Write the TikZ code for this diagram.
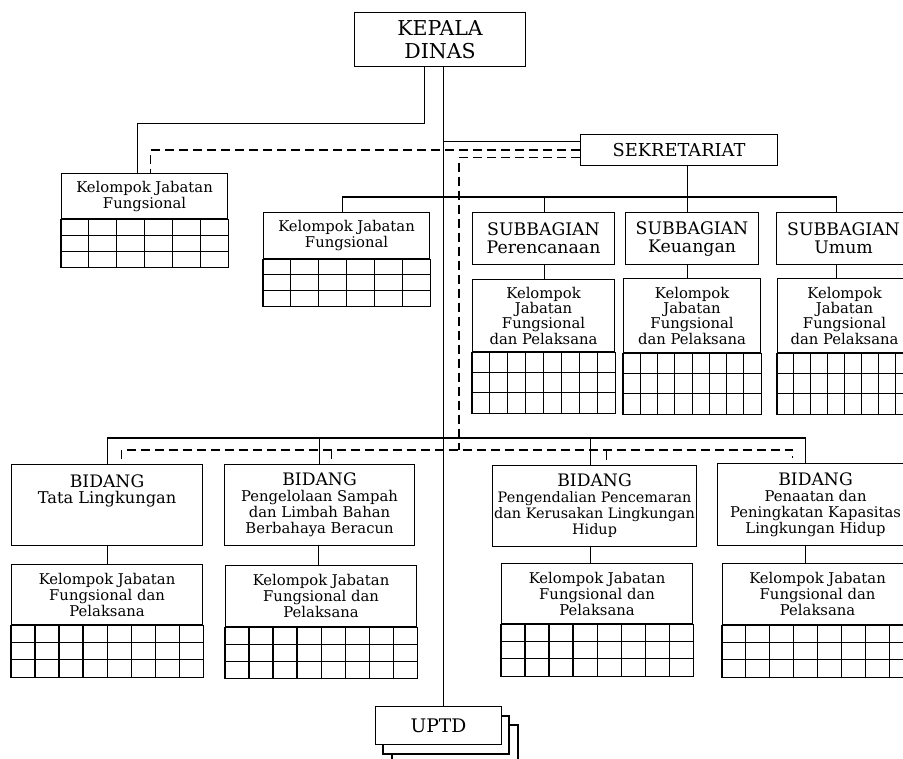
\documentclass[tikz,border=0pt]{standalone}
\usepackage{fontspec}
\setmainfont{DejaVu Serif}
\usetikzlibrary{calc}

\begin{document}
\begin{tikzpicture}[x=1pt,y=1pt,yscale=-1,xscale=1,line width=1.1pt,
  kotak/.style={draw, anchor=north west, inner sep=0pt, align=center},
  garisputus/.style={dash pattern=on 9pt off 5pt},
  hurufA/.style={font=\fontsize{20.5}{23.5}\selectfont},
  hurufB/.style={font=\fontsize{17.3}{18}\selectfont},
  hurufC/.style={font=\fontsize{14.8}{15.3}\selectfont},
  hurufD/.style={font=\fontsize{14.8}{16}\selectfont},
  hurufE/.style={font=\fontsize{14.4}{16}\selectfont}]
\useasboundingbox (0,0) rectangle (903,759);
\clip (0,0) rectangle (903,759);
%Kotak
\node[kotak, hurufA, minimum width=171pt, minimum height=54pt] (kepala) at (354,12) {KEPALA\\DINAS};
\node[kotak, font=\fontsize{17.8}{20}\selectfont, minimum width=197pt, minimum height=31pt] (sek) at (580,134) {SEKRETARIAT};
\node[kotak, hurufD, minimum width=166pt, minimum height=45pt] (kjf1) at (61,173) {Kelompok Jabatan\\Fungsional};
\node[kotak, hurufD, minimum width=166pt, minimum height=46pt] (kjf2) at (263,212) {Kelompok Jabatan\\Fungsional};
\node[kotak, hurufB, minimum width=142pt, minimum height=52pt] (sbRenc) at (472,212) {SUBBAGIAN\\Perencanaan};
\node[kotak, hurufB, minimum width=133pt, minimum height=52pt] (sbKeu) at (625,212) {SUBBAGIAN\\Keuangan};
\node[kotak, hurufB, minimum width=134pt, minimum height=52pt] (sbUmum) at (776,212) {SUBBAGIAN\\Umum};
\node[kotak, hurufC, minimum width=142pt, minimum height=72pt] (kjfRenc) at (472,279) {Kelompok\\Jabatan\\Fungsional\\dan Pelaksana};
\node[kotak, hurufC, minimum width=137pt, minimum height=74pt] (kjfKeu) at (623,278) {Kelompok\\Jabatan\\Fungsional\\dan Pelaksana};
\node[kotak, hurufC, minimum width=134pt, minimum height=74pt] (kjfUmum) at (777,278) {Kelompok\\Jabatan\\Fungsional\\dan Pelaksana};
\node[kotak, hurufD, minimum width=191pt, minimum height=81pt] (bidTata) at (11,464) {{\fontsize{17.2}{19}\selectfont BIDANG}\\{\fontsize{16.2}{18}\selectfont Tata Lingkungan}\\\mbox{}\\\mbox{}};
\node[kotak, hurufD, minimum width=190pt, minimum height=81pt] (bidSampah) at (224,464) {{\fontsize{17.2}{19}\selectfont BIDANG}\\Pengelolaan Sampah\\dan Limbah Bahan\\Berbahaya Beracun};
\node[kotak, hurufE, minimum width=204pt, minimum height=81pt] (bidCemar) at (492,465) {{\fontsize{17.2}{19}\selectfont BIDANG}\\Pengendalian Pencemaran\\dan Kerusakan Lingkungan\\Hidup};
\node[kotak, hurufD, minimum width=196pt, minimum height=82pt] (bidTaat) at (717,463) {{\fontsize{17.2}{19}\selectfont BIDANG}\\Penaatan dan\\Peningkatan Kapasitas\\Lingkungan Hidup};
\node[kotak, hurufD, minimum width=191pt, minimum height=60pt] (kjfTata) at (11,564) {Kelompok Jabatan\\Fungsional dan\\Pelaksana};
\node[kotak, hurufD, minimum width=191pt, minimum height=61pt] (kjfSampah) at (225,565) {Kelompok Jabatan\\Fungsional dan\\Pelaksana};
\node[kotak, hurufD, minimum width=191pt, minimum height=60pt] (kjfCemar) at (501,563) {Kelompok Jabatan\\Fungsional dan\\Pelaksana};
\node[kotak, hurufD, minimum width=190pt, minimum height=61pt] (kjfTaat) at (722,563) {Kelompok Jabatan\\Fungsional dan\\Pelaksana};
\foreach \dx/\dy in {17/19,8/10}
  \draw[fill=white] (375+\dx,706+\dy) rectangle ++(126,38);
\node[kotak, font=\fontsize{18.7}{20}\selectfont, fill=white, minimum width=126pt, minimum height=38pt] (uptd) at (375,706) {UPTD};
%Tabel
\foreach \n/\c/\h in {kjf1/5/48, kjf2/5/47, kjfRenc/7/61, kjfKeu/7/61, kjfUmum/7/61, kjfTata/7/52, kjfSampah/7/51, kjfCemar/7/52, kjfTaat/7/52}{
  \draw (\n.south west) rectangle ($(\n.south east)+(0,\h)$);
  \foreach \r in {1,2}
    \draw ($(\n.south west)+(0,\r*\h/3)$) -- ($(\n.south east)+(0,\r*\h/3)$);
  \foreach \k in {1,...,\c}
    \draw ($(\n.south west)!{\k/(\c+1)}!(\n.south east)$) -- ++(0,\h);
}
%Garis
\draw ([xshift=3.5pt]kepala.south) -- ([xshift=3.5pt]kepala.south |- uptd.north);
\draw ([xshift=-15.5pt]kepala.south) -- ++(0,56) -| ([xshift=-7pt]kjf1.north);
\draw ($(sek.west)+(0,-8.5)$) -- ++(-137,0);
\draw ([xshift=8.5pt]sek.south) -- ([xshift=8.5pt]sek.south |- sbKeu.north);
\draw ([xshift=-4pt]kjf2.north) -- ++(0,-15) -| ([xshift=-7pt]sbUmum.north);
\draw ([xshift=1pt]sbRenc.north) -- ++(0,-15);
\draw ([xshift=1pt]sbRenc.south) -- ([xshift=1pt]sbRenc.south |- kjfRenc.north);
\draw ([xshift=-4.5pt]sbKeu.south) -- ([xshift=-4.5pt]sbKeu.south |- kjfKeu.north);
\draw ([xshift=-7pt]sbUmum.south) -- ([xshift=-7pt]sbUmum.south |- kjfUmum.north);
\coordinate (sambungA) at (443,438);
\draw (bidTata.north) -- (bidTata.north |- sambungA) -- ([xshift=-10pt]bidTaat.north |- sambungA) -- ([xshift=-10pt]bidTaat.north);
\draw (bidSampah.north) -- (bidSampah.north |- sambungA);
\draw ([xshift=-4pt]bidCemar.north) -- ([xshift=-4pt]bidCemar.north |- sambungA);
\draw (bidTata.south) -- (bidTata.south |- kjfTata.north);
\draw ([xshift=-1pt]bidSampah.south) -- ([xshift=-1pt]bidSampah.south |- kjfSampah.north);
\draw ([xshift=-4pt]bidCemar.south) -- ([xshift=-4pt]bidCemar.south |- kjfCemar.north);
\draw ([xshift=-10pt]bidTaat.south) -- ([xshift=-10pt]bidTaat.south |- kjfTaat.north);
%Garis putus
\coordinate (sambungB) at (459,450);
\coordinate (tA) at ($(bidTata.north)+(14.5,-5)$);
\coordinate (tB) at ($(bidSampah.north)+(12,-5)$);
\coordinate (tC) at ($(bidCemar.north)+(12,-5)$);
\coordinate (tD) at ($(bidTaat.north)+(-23,-5)$);
\draw[garisputus] (sek.west) -| ([xshift=6pt]kjf1.north);
\draw[garisputus] ($(sek.west)+(0,7.5)$) -| (sambungB);
\draw[garisputus] (tA) -- (tA |- sambungB) -- (tD |- sambungB) -- (tD);
\draw[garisputus] (tB) -- (tB |- sambungB);
\draw[garisputus] (tC) -- (tC |- sambungB);
\end{tikzpicture}
\end{document}
